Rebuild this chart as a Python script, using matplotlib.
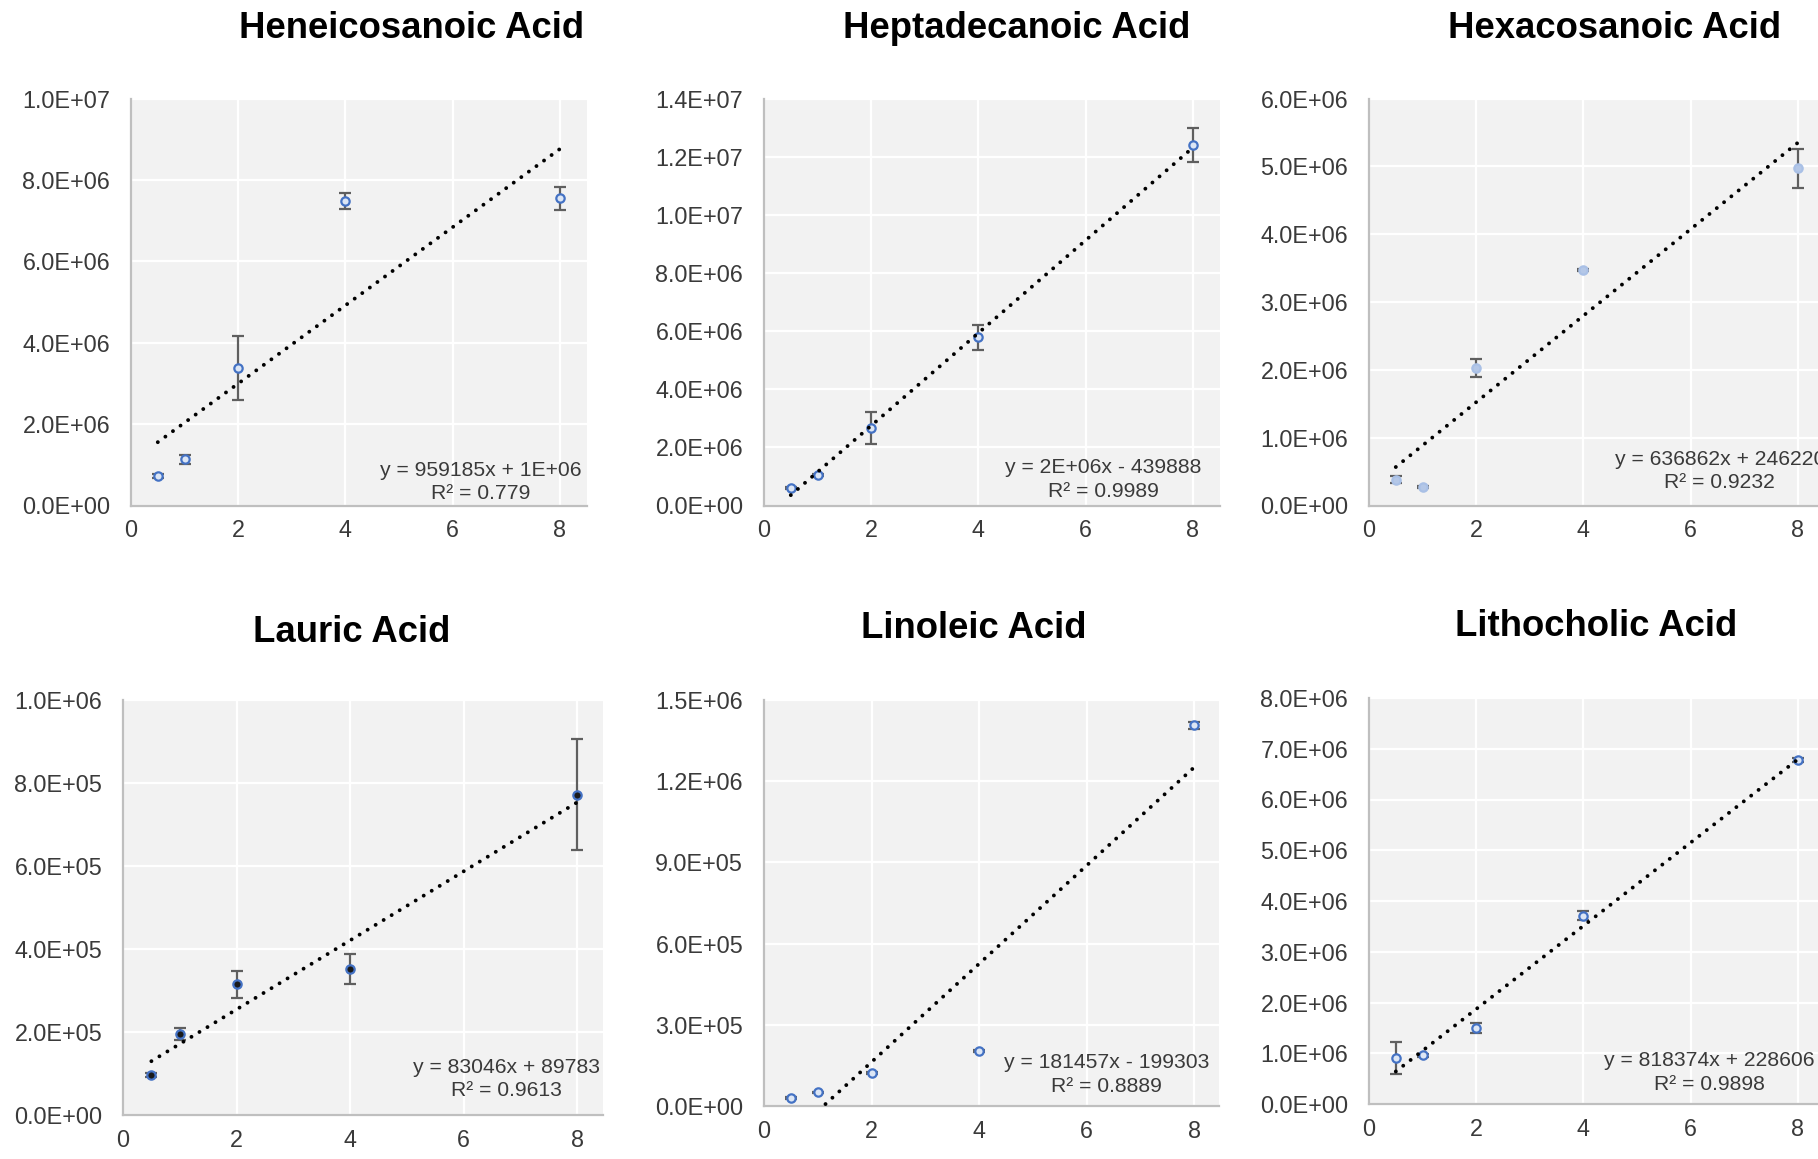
import numpy as np
import matplotlib.pyplot as plt
from matplotlib.ticker import FixedLocator, FuncFormatter

plt.rcParams['font.family'] = ['Liberation Sans', 'DejaVu Sans']

W, H = 1818, 1159

# concentrations (same for all panels)
conc = [0.5, 1, 2, 4, 8]

titles = ["Heneicosanoic Acid", "Heptadecanoic Acid", "Hexacosanoic Acid",
          "Lauric Acid", "Linoleic Acid", "Lithocholic Acid"]

# mean peak areas
heneicosanoic = [0.723e6, 1.134e6, 3.377e6, 7.486e6, 7.543e6]
heneicosanoic_err = [0.058e6, 0.107e6, 0.78e6, 0.197e6, 0.283e6]
heptadecanoic = [0.598e6, 1.047e6, 2.669e6, 5.787e6, 12.40e6]
heptadecanoic_err = [0.03e6, 0.03e6, 0.546e6, 0.426e6, 0.575e6]
hexacosanoic = [0.380e6, 0.271e6, 2.026e6, 3.471e6, 4.974e6]
hexacosanoic_err = [0.05e6, 0.02e6, 0.131e6, 0.02e6, 0.288e6]
lauric = [95.6e3, 195e3, 315e3, 352.5e3, 772e3]
lauric_err = [5e3, 15e3, 32e3, 36e3, 133e3]
linoleic = [29.6e3, 50.5e3, 123e3, 203e3, 1406e3]
linoleic_err = [3e3, 3e3, 4e3, 4e3, 12e3]
lithocholic = [0.914e6, 0.961e6, 1.500e6, 3.711e6, 6.776e6]
lithocholic_err = [0.316e6, 0.03e6, 0.105e6, 0.086e6, 0.04e6]

means = [heneicosanoic, heptadecanoic, hexacosanoic, lauric, linoleic, lithocholic]
errs = [heneicosanoic_err, heptadecanoic_err, hexacosanoic_err, lauric_err, linoleic_err, lithocholic_err]

equations = ["y = 959185x + 1E+06\nR² = 0.779",
             "y = 2E+06x - 439888\nR² = 0.9989",
             "y = 636862x + 246220\nR² = 0.9232",
             "y = 83046x + 89783\nR² = 0.9613",
             "y = 181457x - 199303\nR² = 0.8889",
             "y = 818374x + 228606\nR² = 0.9898"]

ymax = [1.0e7, 1.4e7, 6.0e6, 1.0e6, 1.5e6, 8.0e6]
ystep = [2e6, 2e6, 1e6, 2e5, 3e5, 1e6]

# layout in pixels: left, top, bottom, px per x unit, xmax
boxes = [(131, 98.5, 505.5, 53.6, 8.5),
         (764, 98.5, 505.5, 53.6, 8.5),
         (1369, 98.5, 505.5, 53.6, 8.5),
         (123, 700, 1115, 56.8, 8.45),
         (764, 700, 1106, 53.8, 8.45),
         (1369, 698, 1104, 53.6, 8.5)]
title_pos = [(412, 29), (1017, 29), (1615, 29), (352, 632), (974, 629), (1596, 627)]
eq_pos = [(0.767, 0.058), (0.744, 0.064), (0.77, 0.085),
          (0.798, 0.087), (0.754, 0.077), (0.747, 0.077)]
face = ['#DCE6F5', '#DCE6F5', '#B4C7E7', '#1A1A1A', '#DCE6F5', '#DCE6F5']
edge = ['#4472C4', '#4472C4', '#A9C0E6', '#4472C4', '#4472C4', '#4472C4']

fig = plt.figure(figsize=(W / 100, H / 100), dpi=100)
fig.patch.set_facecolor('white')

for i in range(6):
    left, top, bottom, ux, xmax = boxes[i]
    ax = fig.add_axes([left / W, 1 - bottom / H, ux * xmax / W, (bottom - top) / H])
    ax.set_facecolor('#F2F2F2')
    ax.set_xlim(0, xmax)
    ax.set_ylim(0, ymax[i])
    ax.xaxis.set_major_locator(FixedLocator([0, 2, 4, 6, 8]))
    ax.yaxis.set_major_locator(FixedLocator(np.arange(0, ymax[i] + ystep[i] / 2, ystep[i])))
    ax.yaxis.set_major_formatter(FuncFormatter(lambda v, p: '{:.1E}'.format(v)))
    ax.grid(True, color='white', lw=1.6)
    ax.set_axisbelow(True)
    for s in ['top', 'right']:
        ax.spines[s].set_visible(False)
    for s in ['left', 'bottom']:
        ax.spines[s].set_color('#BFBFBF')
        ax.spines[s].set_linewidth(1.6)
    ax.tick_params(length=0, labelsize=16.8, labelcolor='#3A3A3A')
    ax.tick_params(axis='y', pad=15)
    ax.tick_params(axis='x', pad=10)

    # linear trendline fitted on the means
    k, b = np.polyfit(conc, means[i], 1)
    xs = np.array([conc[0], conc[-1]])
    ax.plot(xs, k * xs + b, color='black', lw=2.8, linestyle=(0, (0.01, 2.4)),
            dash_capstyle='round', zorder=4)

    ax.errorbar(conc, means[i], yerr=errs[i], fmt='o', ms=6, mew=1.6,
                mfc=face[i], mec=edge[i], ecolor='#5F5F5F', elinewidth=1.6,
                capsize=4.5, capthick=1.6, zorder=3)

    ax.text(eq_pos[i][0], eq_pos[i][1], equations[i], transform=ax.transAxes,
            ha='center', va='center', fontsize=15.2, color='#3A3A3A',
            linespacing=1.3, zorder=5)

    fig.text(title_pos[i][0] / W, 1 - title_pos[i][1] / H, titles[i],
             ha='center', va='center', fontsize=26.3, fontweight='bold', color='black')

fig.savefig('out.png', dpi=100)
